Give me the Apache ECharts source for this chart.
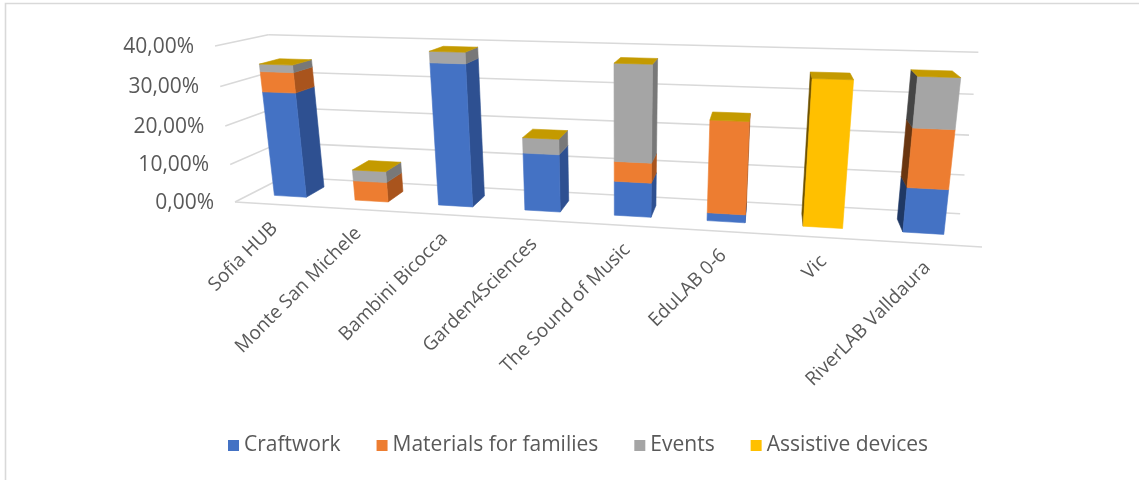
<!DOCTYPE html>
<html>
<head>
<meta charset="utf-8">
<script src="https://cdn.jsdelivr.net/npm/echarts@6.0.0/dist/echarts.min.js"></script>
<style>
  html, body { margin: 0; padding: 0; background: #ffffff; }
  #chart { width: 1139px; height: 480px; }
</style>
</head>
<body>
<div id="chart"></div>
<script>
// ---- data (percent) ----
const categories = ['Sofia HUB', 'Monte San Michele', 'Bambini Bicocca', 'Garden4Sciences',
  'The Sound of Music', 'EduLAB 0-6', 'Vic', 'RiverLAB Valldaura'];
const craftwork = [27.6, 0, 36.3, 14.7, 8.7, 2.0, 0, 10.8];
const materials = [5.2, 5.2, 0, 0, 5.0, 22.8, 0, 14.0];
const events    = [1.9, 2.9, 2.8, 3.9, 23.8, 0, 0, 11.7];
const assistive = [0, 0, 0, 0, 0, 0, 35.3, 0];
const yTicks = [0, 10, 20, 30, 40];

const seriesNames = ['Craftwork', 'Materials for families', 'Events', 'Assistive devices'];
const seriesValues = [craftwork, materials, events, assistive];

// face shades per series: front, right side, left side, top
const shades = [
  { front: '#4472C4', right: '#2E5091', left: '#1F3864', top: '#3A62A8' },
  { front: '#ED7D31', right: '#A9541D', left: '#6A3610', top: '#C96A28' },
  { front: '#A5A5A5', right: '#787878', left: '#454545', top: '#8C8C8C' },
  { front: '#FFC000', right: '#BF9000', left: '#6E5200', top: '#C49A00' }
];
const textColor = '#595959';
const gridColor = '#D9D9D9';
const fontFamily = "'Open Sans', 'Noto Sans', sans-serif";

// ---- perspective view of the plot box ----
// unit box: u runs along the categories, v along the values, w from the front to the back wall
const VIEW = {
  origin: [235, 202],
  vanish: { u: [-4500, -83], v: [621, 3218], w: [772, -72] }
};
// scale of each axis, fixed by where its unit end lands on screen
const LU = (982 - VIEW.origin[0]) / (VIEW.vanish.u[0] - 982);
const LV = (46 - VIEW.origin[1]) / (VIEW.vanish.v[1] - 46);
const LW = (284 - VIEW.origin[0]) / (VIEW.vanish.w[0] - 284);

function proj(u, v, w) {
  const a = LU * u, b = LV * v, c = LW * w;
  const hx = VIEW.origin[0] + a * VIEW.vanish.u[0] + b * VIEW.vanish.v[0] + c * VIEW.vanish.w[0];
  const hy = VIEW.origin[1] + a * VIEW.vanish.u[1] + b * VIEW.vanish.v[1] + c * VIEW.vanish.w[1];
  const hw = 1 + a + b + c;
  return [hx / hw, hy / hw];
}

const BAR_FRONT = 0.3, BAR_BACK = 0.7;   // depth slot of the columns
const BAR_SHARE = 0.4;                   // share of a category band taken by a column

// stacked bases
const stackData = seriesValues.map(() => []);
categories.forEach((c, i) => {
  let base = 0;
  seriesValues.forEach((vals, k) => {
    stackData[k].push([i, base, base + vals[i]]);
    base += vals[i];
  });
});

function toUnit(params, api, cat, val) {
  const cs = params.coordSys;
  const p = api.coord([cat, val]);
  return [(p[0] - cs.x) / cs.width, (cs.y + cs.height - p[1]) / cs.height];
}

function poly(points, fill) {
  return { type: 'polygon', shape: { points }, style: { fill, stroke: fill, lineWidth: 0.6 } };
}

function columnRenderer(k) {
  const isLast = k === seriesValues.length - 1;
  return function (params, api) {
    const cs = params.coordSys;
    const cat = api.value(0);
    const [uc, v0] = toUnit(params, api, cat, api.value(1));
    const v1 = toUnit(params, api, cat, api.value(2))[1];
    const half = BAR_SHARE / 2 * api.size([1, 0])[0] / cs.width;
    const u0 = uc - half, u1 = uc + half;
    const W0 = BAR_FRONT, W1 = BAR_BACK;
    const sh = shades[k];
    const children = [];
    if (v1 > v0) {
      // side faces
      if (proj(u1, 0, W1)[0] > proj(u1, 0, W0)[0]) {
        children.push(poly([proj(u1, v0, W0), proj(u1, v0, W1), proj(u1, v1, W1), proj(u1, v1, W0)], sh.right));
      }
      if (proj(u0, 0, W1)[0] < proj(u0, 0, W0)[0]) {
        children.push(poly([proj(u0, v0, W0), proj(u0, v0, W1), proj(u0, v1, W1), proj(u0, v1, W0)], sh.left));
      }
      children.push(poly([proj(u0, v0, W0), proj(u1, v0, W0), proj(u1, v1, W0), proj(u0, v1, W0)], sh.front));
    }
    if (isLast) {
      children.push(poly([proj(u0, v1, W0), proj(u1, v1, W0), proj(u1, v1, W1), proj(u0, v1, W1)], sh.top));
    }
    return { type: 'group', children };
  };
}

function wallRenderer(params, api) {
  const t = api.value(1);
  const v = toUnit(params, api, 0, t)[1];
  const line = (a, b) => ({
    type: 'line', shape: { x1: a[0], y1: a[1], x2: b[0], y2: b[1] },
    style: { stroke: gridColor, lineWidth: 1.6 }
  });
  const children = [
    line(proj(0, v, 1), proj(1, v, 1)),
    line(proj(0, v, 0), proj(0, v, 1))
  ];
  if (t === 0) children.push(line(proj(0, 0, 0), proj(1, 0, 0)));
  const anchor = proj(0, v, 0);
  children.push({
    type: 'text',
    style: {
      text: t.toFixed(2).replace('.', ',') + '%',
      x: anchor[0] - 21, y: anchor[1] + 1,
      align: 'right', verticalAlign: 'middle',
      fill: textColor, font: '21px ' + fontFamily
    }
  });
  return { type: 'group', children };
}

function categoryLabelRenderer(params, api) {
  const cat = api.value(0);
  const uc = toUnit(params, api, cat, 0)[0];
  const p = proj(uc, 0, 0);
  return {
    type: 'text',
    x: p[0] - 1, y: p[1] + 21,
    rotation: Math.PI / 4,
    style: {
      text: categories[cat], x: 0, y: 0,
      align: 'right', verticalAlign: 'middle',
      fill: textColor, font: '19px ' + fontFamily
    }
  };
}

const chart = echarts.init(document.getElementById('chart'), null, { renderer: 'canvas' });

const series = [
  {
    type: 'custom', name: 'walls', coordinateSystem: 'cartesian2d', z: 1, clip: false,
    data: yTicks.map(t => [0, t]), renderItem: wallRenderer, silent: true
  },
  {
    type: 'custom', name: 'categoryLabels', coordinateSystem: 'cartesian2d', z: 1, clip: false,
    data: categories.map((c, i) => [i, 0]), renderItem: categoryLabelRenderer, silent: true
  }
];
seriesNames.forEach((name, k) => {
  series.push({
    type: 'custom', name, coordinateSystem: 'cartesian2d', z: 3 + k, clip: false,
    itemStyle: { color: shades[k].front },
    data: stackData[k], renderItem: columnRenderer(k)
  });
});

chart.setOption({
  animation: false,
  backgroundColor: '#ffffff',
  color: shades.map(s => s.front),
  grid: { left: 0, top: 0, width: 800, height: 400, show: false },
  xAxis: { type: 'category', data: categories, show: false },
  yAxis: { type: 'value', min: 0, max: 40, interval: 10, show: false },
  legend: {
    data: seriesNames,
    left: 223, top: 430,
    icon: 'rect', itemWidth: 11, itemHeight: 11, itemGap: 36,
    textStyle: { color: textColor, fontSize: 21, fontFamily }
  },
  graphic: [{
    type: 'rect', silent: true, z: 0,
    shape: { x: 5.5, y: 3.5, width: 1300, height: 600 },
    style: { fill: 'none', stroke: gridColor, lineWidth: 1.6 }
  }],
  series
});
</script>
</body>
</html>
